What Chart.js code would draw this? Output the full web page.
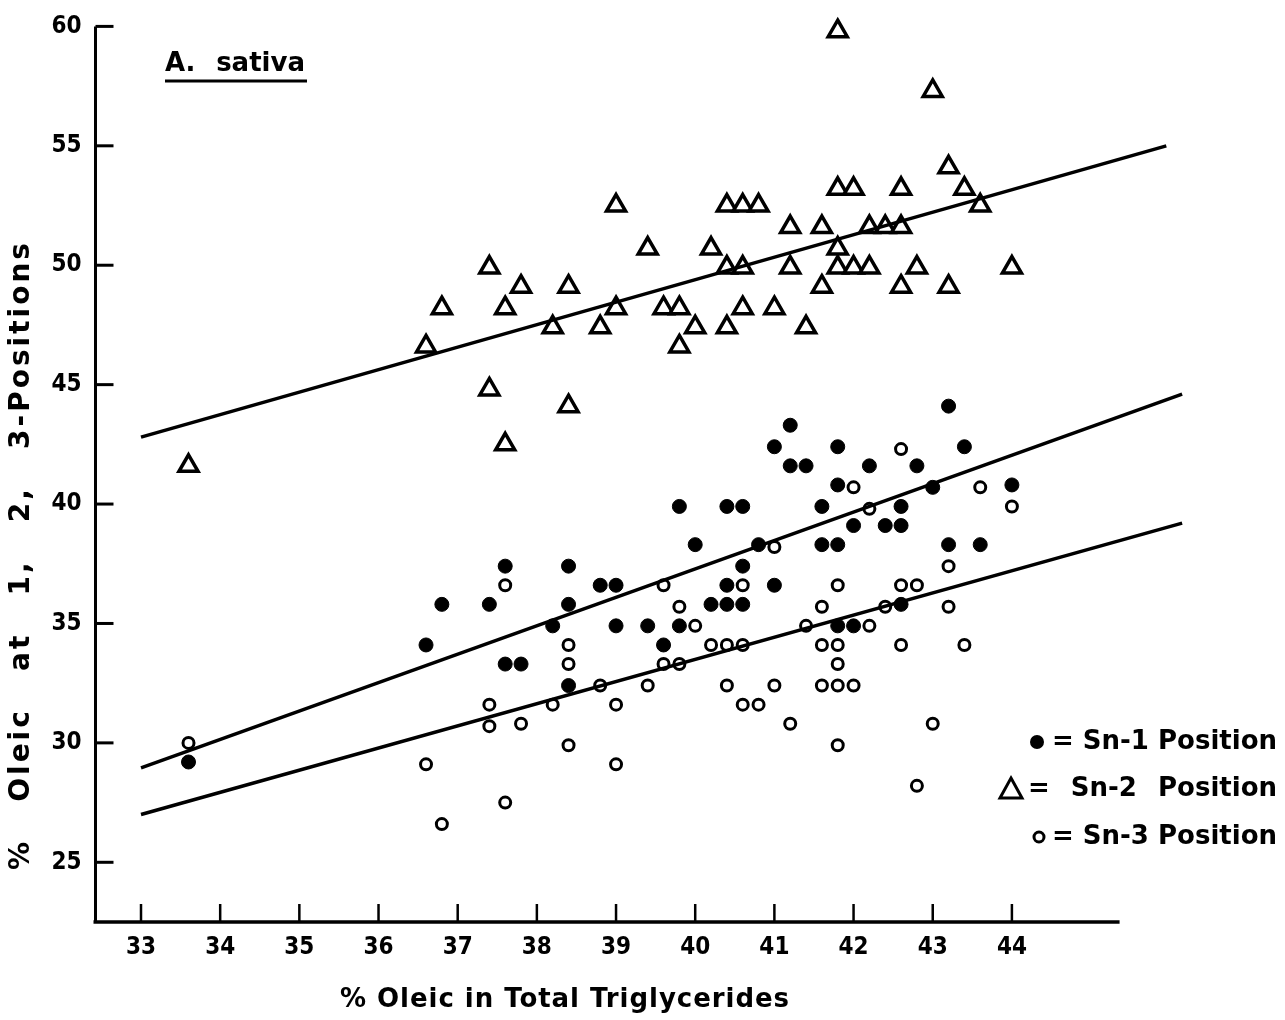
<!DOCTYPE html>
<html>
<head>
<meta charset="utf-8">
<script src="https://cdn.jsdelivr.net/npm/chart.js@4.4.1/dist/chart.umd.min.js"></script>
<style>
  html, body { margin: 0; padding: 0; background: #fff; }
  #wrap { width: 1285px; height: 1020px; }
</style>
</head>
<body>
<div id="wrap"><canvas id="oleicChart" width="1285" height="1020"></canvas></div>
<script>
// tick labels
const xTickValues = [33, 34, 35, 36, 37, 38, 39, 40, 41, 42, 43, 44];
const yTickValues = [25, 30, 35, 40, 45, 50, 55, 60];

// Sn-1 position (filled circles)
const sn1X = [33.6, 36.6, 36.8, 37.4, 37.6, 37.6, 37.8, 38.2, 38.4, 38.4, 38.4, 38.8, 39.0, 39.0, 39.4, 39.6, 39.8, 39.8, 40.0, 40.2,
              40.4, 40.4, 40.4, 40.6, 40.6, 40.6, 40.8, 41.0, 41.0, 41.2, 41.2, 41.4, 41.6, 41.6, 41.8, 41.8, 41.8, 41.8, 42.0, 42.0,
              42.2, 42.4, 42.6, 42.6, 42.6, 42.8, 43.0, 43.2, 43.2, 43.4, 43.6, 44.0];
const sn1Y = [29.2, 34.1, 35.8, 35.8, 37.4, 33.3, 33.3, 34.9, 37.4, 35.8, 32.4, 36.6, 36.6, 34.9, 34.9, 34.1, 39.9, 34.9, 38.3, 35.8,
              39.9, 36.6, 35.8, 39.9, 37.4, 35.8, 38.3, 42.4, 36.6, 43.3, 41.6, 41.6, 39.9, 38.3, 42.4, 40.8, 38.3, 34.9, 39.1, 34.9,
              41.6, 39.1, 39.9, 39.1, 35.8, 41.6, 40.7, 44.1, 38.3, 42.4, 38.3, 40.8];

// Sn-2 position (triangles)
const sn2X = [33.6, 36.6, 36.8, 37.4, 37.4, 37.6, 37.6, 37.8, 38.2, 38.4, 38.4, 38.8, 39.0, 39.0, 39.4, 39.6, 39.8, 39.8, 40.0, 40.2,
              40.4, 40.4, 40.4, 40.6, 40.6, 40.6, 40.8, 41.0, 41.2, 41.2, 41.4, 41.6, 41.6, 41.8, 41.8, 41.8, 41.8, 42.0, 42.0, 42.2,
              42.2, 42.4, 42.6, 42.6, 42.6, 42.8, 43.0, 43.2, 43.2, 43.4, 43.6, 44.0];
const sn2Y = [41.6, 46.6, 48.2, 49.9, 44.8, 48.2, 42.5, 49.1, 47.4, 49.1, 44.1, 47.4, 48.2, 52.5, 50.7, 48.2, 48.2, 46.6, 47.4, 50.7,
              47.4, 49.9, 52.5, 48.2, 49.9, 52.5, 52.5, 48.2, 49.9, 51.6, 47.4, 49.1, 51.6, 50.7, 53.2, 49.9, 59.8, 53.2, 49.9, 49.9,
              51.6, 51.6, 51.6, 53.2, 49.1, 49.9, 57.3, 54.1, 49.1, 53.2, 52.5, 49.9];

// Sn-3 position (open circles)
const sn3X = [33.6, 36.6, 36.8, 37.4, 37.4, 37.6, 37.6, 37.8, 38.2, 38.4, 38.4, 38.4, 38.8, 39.0, 39.0, 39.4, 39.6, 39.6, 39.8, 39.8,
              40.0, 40.2, 40.4, 40.6, 40.4, 40.6, 40.6, 40.8, 41.0, 41.0, 41.2, 41.4, 41.6, 41.6, 41.6, 41.8, 41.8, 41.8, 41.8, 41.8,
              42.0, 42.0, 42.2, 42.2, 42.4, 42.6, 42.6, 42.6, 42.8, 42.8, 43.0, 43.2, 43.2, 43.4, 43.6, 44.0];
const sn3Y = [30.0, 29.1, 26.6, 31.6, 30.7, 36.6, 27.5, 30.8, 31.6, 34.1, 33.3, 29.9, 32.4, 31.6, 29.1, 32.4, 36.6, 33.3, 35.7, 33.3,
              34.9, 34.1, 34.1, 34.1, 32.4, 36.6, 31.6, 31.6, 38.2, 32.4, 30.8, 34.9, 35.7, 34.1, 32.4, 36.6, 34.1, 33.3, 32.4, 29.9,
              40.7, 32.4, 34.9, 39.8, 35.7, 36.6, 42.3, 34.1, 36.6, 28.2, 30.8, 37.4, 35.7, 34.1, 40.7, 39.9];

// fitted lines (end points)
const sn1LineX = [33, 46.15];
const sn1LineY = [28.95, 44.6];
const sn2LineX = [33, 45.95];
const sn2LineY = [42.8, 55.0];
const sn3LineX = [33, 46.15];
const sn3LineY = [27.0, 39.2];

const legendLabels = ['Sn-1 Position', 'Sn-2 Position', 'Sn-3 Position'];

const xMin = 32.4, xMax = 46.3, xAxisEnd = 45.36;
const yMin = 22.5, yMax = 60;

function toPoints(xs, ys) {
  return xs.map((x, i) => ({ x: x, y: ys[i] }));
}

const tickFont = '"DejaVu Sans Condensed", "DejaVu Sans", sans-serif';
const titleFont = '"DejaVu Sans", sans-serif';

// draws text so that it spans a given width; leftover room goes to letters or word gaps
function fitText(ctx, text, x, y, width, letterPx, useWordSpacing) {
  ctx.letterSpacing = letterPx + 'px';
  ctx.wordSpacing = '0px';
  const natural = ctx.measureText(text).width;
  const extra = Math.max(0, width - natural);
  if (useWordSpacing) {
    const gaps = text.split(' ').length - 1;
    ctx.wordSpacing = (extra / gaps) + 'px';
  } else {
    ctx.letterSpacing = (letterPx + extra / text.length) + 'px';
  }
  ctx.fillText(text, x, y);
  ctx.letterSpacing = '0px';
  ctx.wordSpacing = '0px';
}

const axesAndText = {
  id: 'axesAndText',
  afterDraw(chart) {
    const ctx = chart.ctx;
    const xs = chart.scales.x, ys = chart.scales.y;
    const left = xs.getPixelForValue(xMin);
    const right = xs.getPixelForValue(xAxisEnd);
    const top = ys.getPixelForValue(yMax);
    const bottom = ys.getPixelForValue(yMin);
    ctx.save();
    ctx.strokeStyle = '#000';
    ctx.fillStyle = '#000';

    // axis lines
    ctx.lineWidth = 3;
    ctx.beginPath();
    ctx.moveTo(left + 2, top);
    ctx.lineTo(left + 2, bottom);
    ctx.stroke();
    ctx.lineWidth = 3.5;
    ctx.beginPath();
    ctx.moveTo(left, bottom);
    ctx.lineTo(right, bottom);
    ctx.stroke();

    // tick marks, drawn inwards
    ctx.lineWidth = 3;
    yTickValues.forEach(v => {
      const py = ys.getPixelForValue(v);
      ctx.beginPath();
      ctx.moveTo(left + 2, py);
      ctx.lineTo(left + 20, py);
      ctx.stroke();
    });
    ctx.lineWidth = 2.5;
    xTickValues.forEach(v => {
      const px = xs.getPixelForValue(v);
      ctx.beginPath();
      ctx.moveTo(px, bottom);
      ctx.lineTo(px, bottom - 18);
      ctx.stroke();
    });

    // x title
    ctx.font = 'bold 26px ' + titleFont;
    ctx.textAlign = 'left';
    ctx.textBaseline = 'middle';
    fitText(ctx, '% Oleic in Total Triglycerides', 340, 1000, 450, 0, false);

    // y title
    ctx.save();
    ctx.translate(22, 870);
    ctx.rotate(-Math.PI / 2);
    ctx.font = 'bold 28px ' + titleFont;
    fitText(ctx, '% Oleic at 1, 2, 3-Positions', 0, 0, 630, 3, true);
    ctx.restore();

    // species label
    ctx.font = 'bold 26px ' + titleFont;
    ctx.textAlign = 'left';
    ctx.textBaseline = 'alphabetic';
    fitText(ctx, 'A. sativa', 165, 71, 140, 0, true);
    ctx.lineWidth = 3;
    ctx.beginPath();
    ctx.moveTo(165, 81);
    ctx.lineTo(307, 81);
    ctx.stroke();

    // legend
    const rowY = [742, 789, 837];
    const textX = [1052, 1028, 1052];
    ctx.font = 'bold 26px ' + titleFont;
    ctx.textAlign = 'left';
    ctx.textBaseline = 'middle';
    legendLabels.forEach((label, i) => {
      fitText(ctx, '= ' + label, textX[i], rowY[i], 1277 - textX[i], 0, true);
    });
    // filled circle
    ctx.beginPath();
    ctx.arc(1037, rowY[0], 7, 0, Math.PI * 2);
    ctx.fill();
    // triangle
    ctx.lineWidth = 3;
    ctx.beginPath();
    ctx.moveTo(1011, rowY[1] - 11);
    ctx.lineTo(1022, rowY[1] + 9);
    ctx.lineTo(1000, rowY[1] + 9);
    ctx.closePath();
    ctx.stroke();
    // open circle
    ctx.beginPath();
    ctx.arc(1039, rowY[2], 5, 0, Math.PI * 2);
    ctx.stroke();

    ctx.restore();
  }
};

new Chart(document.getElementById('oleicChart'), {
  type: 'scatter',
  data: {
    datasets: [
      {
        label: 'Sn-1 fit', type: 'line', data: toPoints(sn1LineX, sn1LineY),
        borderColor: '#000', borderWidth: 3.5, pointRadius: 0, fill: false, clip: false
      },
      {
        label: 'Sn-2 fit', type: 'line', data: toPoints(sn2LineX, sn2LineY),
        borderColor: '#000', borderWidth: 3.5, pointRadius: 0, fill: false, clip: false
      },
      {
        label: 'Sn-3 fit', type: 'line', data: toPoints(sn3LineX, sn3LineY),
        borderColor: '#000', borderWidth: 3.5, pointRadius: 0, fill: false, clip: false
      },
      {
        label: legendLabels[0], data: toPoints(sn1X, sn1Y),
        pointStyle: 'circle', pointRadius: 7, pointBorderWidth: 1,
        pointBackgroundColor: '#000', pointBorderColor: '#000', clip: false
      },
      {
        label: legendLabels[1], data: toPoints(sn2X, sn2Y),
        pointStyle: 'triangle', pointRadius: 11, pointBorderWidth: 3.5,
        pointBackgroundColor: '#fff', pointBorderColor: '#000', clip: false
      },
      {
        label: legendLabels[2], data: toPoints(sn3X, sn3Y),
        pointStyle: 'circle', pointRadius: 5.5, pointBorderWidth: 3,
        pointBackgroundColor: '#fff', pointBorderColor: '#000', clip: false
      }
    ]
  },
  options: {
    responsive: false,
    animation: false,
    layout: { padding: { top: 22, right: 91, left: 0, bottom: 0 } },
    plugins: {
      legend: { display: false },
      tooltip: { enabled: false }
    },
    scales: {
      x: {
        type: 'linear', min: xMin, max: xMax,
        afterBuildTicks: s => { s.ticks = xTickValues.map(v => ({ value: v })); },
        afterFit: s => { s.height = 98; },
        grid: { display: false, drawTicks: false },
        border: { display: false },
        ticks: {
          padding: 11, color: '#000',
          font: { family: tickFont, size: 24, weight: 'bold' }
        }
      },
      y: {
        type: 'linear', min: yMin, max: yMax,
        afterBuildTicks: s => { s.ticks = yTickValues.map(v => ({ value: v })); },
        afterFit: s => { s.width = 93.5; },
        grid: { display: false, drawTicks: false },
        border: { display: false },
        ticks: {
          padding: 12, color: '#000',
          font: { family: tickFont, size: 24, weight: 'bold' }
        }
      }
    }
  },
  plugins: [axesAndText]
});
</script>
</body>
</html>
